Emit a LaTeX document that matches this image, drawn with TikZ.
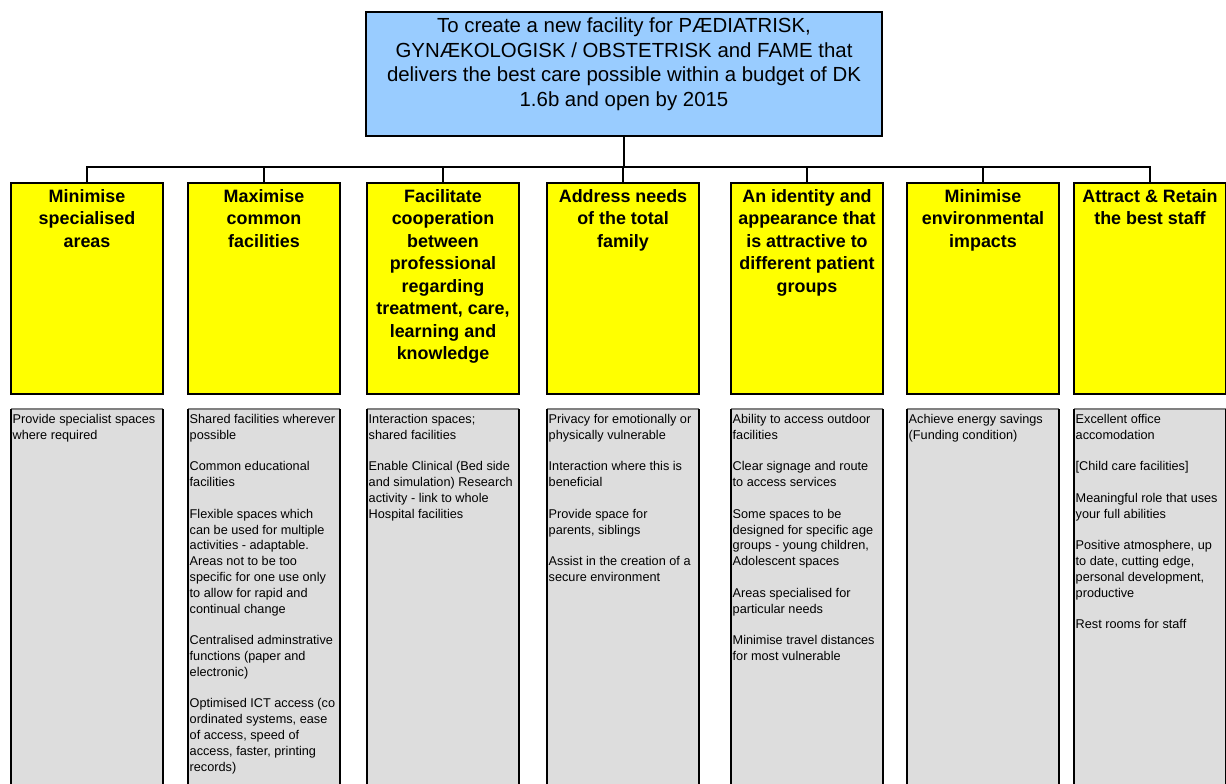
\documentclass[tikz,border=0pt]{standalone}
\usepackage{fontspec}
\setmainfont{Liberation Sans}
\usetikzlibrary{positioning}

\definecolor{goalblue}{RGB}{153,204,255}
\definecolor{aimyellow}{RGB}{255,255,0}
\definecolor{notegray}{RGB}{221,221,221}
\definecolor{rulegray}{RGB}{128,128,128}

\newcommand{\gap}{\\[15.8pt]}% one empty line between the notes

\tikzset{
	goalbox/.style={draw,fill=goalblue,line width=2.5pt,minimum width=516pt,minimum height=124pt,inner sep=0pt,outer sep=0pt},
	goaltext/.style={align=center,inner sep=0pt,font=\fontsize{20.4}{24.5}\selectfont},
	aimbox/.style={draw,fill=aimyellow,line width=2.5pt,minimum width=152pt,minimum height=211pt,inner sep=0pt,outer sep=0pt},
	aimtext/.style={align=center,inner sep=0pt,font=\fontsize{17.9}{22.5}\selectfont\bfseries},
	notebox/.style={fill=notegray,minimum width=152pt,minimum height=391pt,inner sep=0pt,outer sep=0pt},
	notetext/.style={align=left,inner sep=0pt,font=\fontsize{12.7}{15.8}\selectfont},
	link/.style={line width=2pt}
}

\begin{document}
\begin{tikzpicture}[x=1pt,y=-1pt]
	% pixel coordinates, y runs downwards
	\useasboundingbox (0,0) rectangle (1226,784);
	\clip (0,0) rectangle (1226,784); % the note columns run off the page
	
	\node[goalbox] (goal) at (624,74) {};
	\node[goaltext,below=6pt of goal.north] (goaltxt) {To create a new facility for PÆDIATRISK,\\GYNÆKOLOGISK / OBSTETRISK and FAME that\\delivers the best care possible within a budget of DK\\1.6b and open by 2015};
	
	\coordinate (bus) at (0,167); % height of the horizontal line
	
	\foreach \i/\cx/\aim/\notes in {%
		1/87/{Minimise\\specialised\\areas}/{Provide specialist spaces\\where required},
		2/264/{Maximise\\common\\facilities}/{Shared facilities wherever\\possible\gap Common educational\\facilities\gap Flexible spaces which\\can be used for multiple\\activities - adaptable.\\Areas not to be too\\specific for one use only\\to allow for rapid and\\continual change\gap Centralised adminstrative\\functions (paper and\\electronic)\gap Optimised ICT access (co\\ordinated systems, ease\\of access, speed of\\access, faster, printing\\records)},
		3/443/{Facilitate\\cooperation\\between\\professional\\regarding\\treatment, care,\\learning and\\knowledge}/{Interaction spaces;\\shared facilities\gap Enable Clinical (Bed side\\and simulation) Research\\activity - link to whole\\Hospital facilities},
		4/623/{Address needs\\of the total\\family}/{Privacy for emotionally or\\physically vulnerable\gap Interaction where this is\\beneficial\gap Provide space for\\parents, siblings\gap Assist in the creation of a\\secure environment},
		5/807/{An identity and\\appearance that\\is attractive to\\different patient\\groups}/{Ability to access outdoor\\facilities\gap Clear signage and route\\to access services\gap Some spaces to be\\designed for specific age\\groups - young children,\\Adolescent spaces\gap Areas specialised for\\particular needs\gap Minimise travel distances\\for most vulnerable},
		6/983/{Minimise\\environmental\\impacts}/{Achieve energy savings\\(Funding condition)},
		7/1150/{Attract \& Retain\\the best staff}/{Excellent office\\accomodation\gap {[}Child care facilities{]}\gap Meaningful role that uses\\your full abilities\gap Positive atmosphere, up\\to date, cutting edge,\\personal development,\\productive\gap Rest rooms for staff}%
	}{
		\node[aimbox] (aim\i) at (\cx,288.5) {};
		\node[aimtext,below=6pt of aim\i.north] (aimtxt\i) {\aim};
		
		\node[notebox] (note\i) at (\cx,604.5) {};
		\draw[rulegray,line width=1.2pt] (note\i.north west) -- (note\i.north east);
		\draw[line width=2.5pt] (note\i.north west) -- (note\i.south west)
			(note\i.north east) -- (note\i.south east);
		\node[notetext,below right=5pt and 1.5pt of note\i.north west] (notetxt\i) {\notes};
		
		\draw[link] (goal.south) |- (aim\i.north |- bus) -- (aim\i.north);
	}
\end{tikzpicture}
\end{document}
